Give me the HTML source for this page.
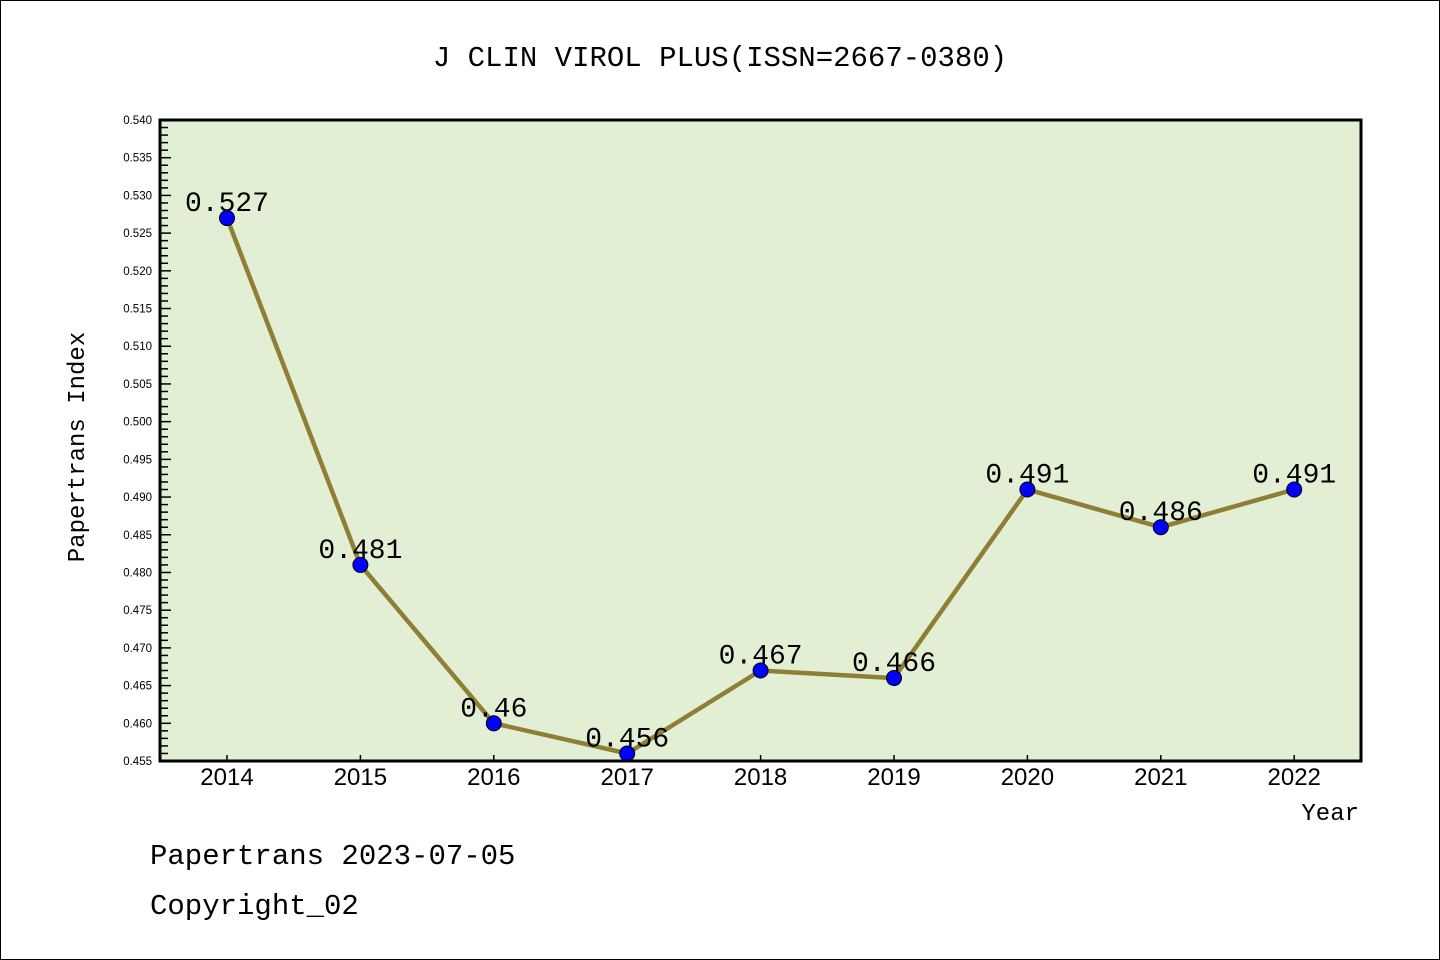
<!DOCTYPE html>
<html><head><meta charset="utf-8"><style>
body{margin:0;width:1440px;height:960px;background:#fff;overflow:hidden}
svg{display:block}
text{font-family:"Liberation Sans","DejaVu Sans",sans-serif}
text.mono{font-family:"Liberation Mono","DejaVu Sans Mono",monospace}
</style></head><body>
<svg id="chart" width="1440" height="960">
<rect x="0.5" y="0.5" width="1439" height="959" fill="#fff" stroke="#000"/>
<text class="mono" x="720" y="66" font-size="29" text-anchor="middle">J CLIN VIROL PLUS(ISSN=2667-0380)</text>
<rect x="160" y="120" width="1201" height="641" fill="#e2efd5"/>
<g id="axes"></g>
<g id="series"></g>
<rect x="160" y="120" width="1201" height="641" fill="none" stroke="#000" stroke-width="3"/>
<text class="mono" transform="translate(84,447) rotate(-90)" font-size="24" text-anchor="middle">Papertrans Index</text>
<text class="mono" x="1359" y="820" font-size="24" text-anchor="end">Year</text>
<text class="mono" x="150" y="864" font-size="29">Papertrans 2023-07-05</text>
<text class="mono" x="150" y="914" font-size="29">Copyright_02</text>
</svg>
<script>
const categories=[2014,2015,2016,2017,2018,2019,2020,2021,2022];
const values=[0.527,0.481,0.46,0.456,0.467,0.466,0.491,0.486,0.491];
const labels=["0.527","0.481","0.46","0.456","0.467","0.466","0.491","0.486","0.491"];
const yTicks=["0.455","0.460","0.465","0.470","0.475","0.480","0.485","0.490","0.495","0.500","0.505","0.510","0.515","0.520","0.525","0.530","0.535","0.540"];
const NS="http://www.w3.org/2000/svg";
const Y0=0.455,Y1=0.540,PT=120,PB=761;
function yS(v){return PB-(v-Y0)/(Y1-Y0)*(PB-PT);}
function xS(i){return 227+i*133.4;}
function mk(t,a,p){const e=document.createElementNS(NS,t);for(const k in a)e.setAttribute(k,a[k]);p.appendChild(e);return e;}
const ax=document.getElementById('axes'),sr=document.getElementById('series');
for(let k=0;k<=85;k++){
  const v=Y0+k*0.001,y=yS(v),maj=k%5===0;
  const l=mk('line',{x1:160,x2:160+(maj?11:8),y1:y,y2:y,stroke:'#000','stroke-width':1.5},ax);
  
  
}
yTicks.forEach(s=>{
  const t=mk('text',{x:152,y:yS(parseFloat(s))+4,'font-size':11.5,'text-anchor':'end'},ax);
  t.textContent=s;
  
  
});
categories.forEach((c,i)=>{
  const l=mk('line',{x1:xS(i),x2:xS(i),y1:761,y2:755,stroke:'#000','stroke-width':1.5},ax);
  
  
  const t=mk('text',{x:xS(i),y:785,'font-size':24,'text-anchor':'middle'},ax);
  t.textContent=c;
  
  
});
const pl=mk('polyline',{points:values.map((v,i)=>xS(i)+','+yS(v)).join(' '),fill:'none',stroke:'#8f7f35','stroke-width':4.5},sr);


values.forEach((v,i)=>{
  const c=mk('circle',{cx:xS(i),cy:yS(v),r:7.5,fill:'#0000ff',stroke:'#000','stroke-width':1},sr);
  
  
  const t=mk('text',{x:xS(i),y:yS(v)-7,'font-size':28,'text-anchor':'middle','class':'mono'},sr);
  t.textContent=labels[i];
  
  
});
</script>
</body></html>
